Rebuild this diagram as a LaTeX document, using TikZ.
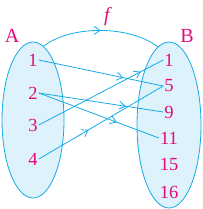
\documentclass[tikz,border=0pt]{standalone}
\usepackage{fontspec}
\setmainfont{Liberation Serif}
\usetikzlibrary{shapes.geometric,arrows.meta,decorations.markings}
\definecolor{cline}{RGB}{20,170,230}
\definecolor{cfill}{RGB}{222,242,251}
\definecolor{ctext}{RGB}{228,10,124}
\tikzset{
  setbox/.style={ellipse,draw=cline,fill=cfill,line width=0.8pt,inner sep=0pt,outer sep=0pt},
  num/.style={text=ctext,font=\fontsize{18.5}{20}\selectfont,inner sep=1pt},
  lab/.style={text=ctext,font=\fontsize{20}{22}\selectfont,inner sep=0pt},
  maparrow/.style={draw=cline,line width=0.8pt,postaction={decorate},
    decoration={markings,mark=at position #1 with {\arrow{Straight Barb[length=6pt,width=8pt,line width=0.8pt]}}}},
}
\begin{document}
\begin{tikzpicture}[x=1pt,y=-1pt]
\useasboundingbox (0,0) rectangle (202,209);
\node[setbox,minimum width=62pt,minimum height=156pt] (SA) at (33,120) {};
\node[setbox,minimum width=64pt,minimum height=166pt] (SB) at (169,125) {};
\node[lab] (LA) at (12,36) {A};
\node[lab] (LB) at (187,36) {B};
\node[lab] (Lf) at (107,17) {\itshape f};
\node[num] (a1) at (33,60) {1};
\node[num] (a2) at (33,93) {2};
\node[num] (a3) at (33,125) {3};
\node[num] (a4) at (33,159) {4};
\node[num] (b1) at (169,60) {1};
\node[num] (b5) at (169,86) {5};
\node[num] (b9) at (169,112) {9};
\node[num] (b11) at (169,138) {11};
\node[num] (b15) at (169,164) {15};
\node[num] (b16) at (169,192) {16};
\draw[maparrow=0.5] (SA.82) .. controls (70,25) and (130,25) .. (SB.98);
\draw[maparrow=0.68] (a1.east) -- (b5.west);
\draw[maparrow=0.7] (a2.east) -- (b9.west);
\draw[maparrow=0.65] (a2.east) -- (b11.west);
\draw[maparrow=0.82] (a3.east) -- (b1.west);
\draw[maparrow=0.4] (a4.east) -- (b5.west);
\end{tikzpicture}
\end{document}
